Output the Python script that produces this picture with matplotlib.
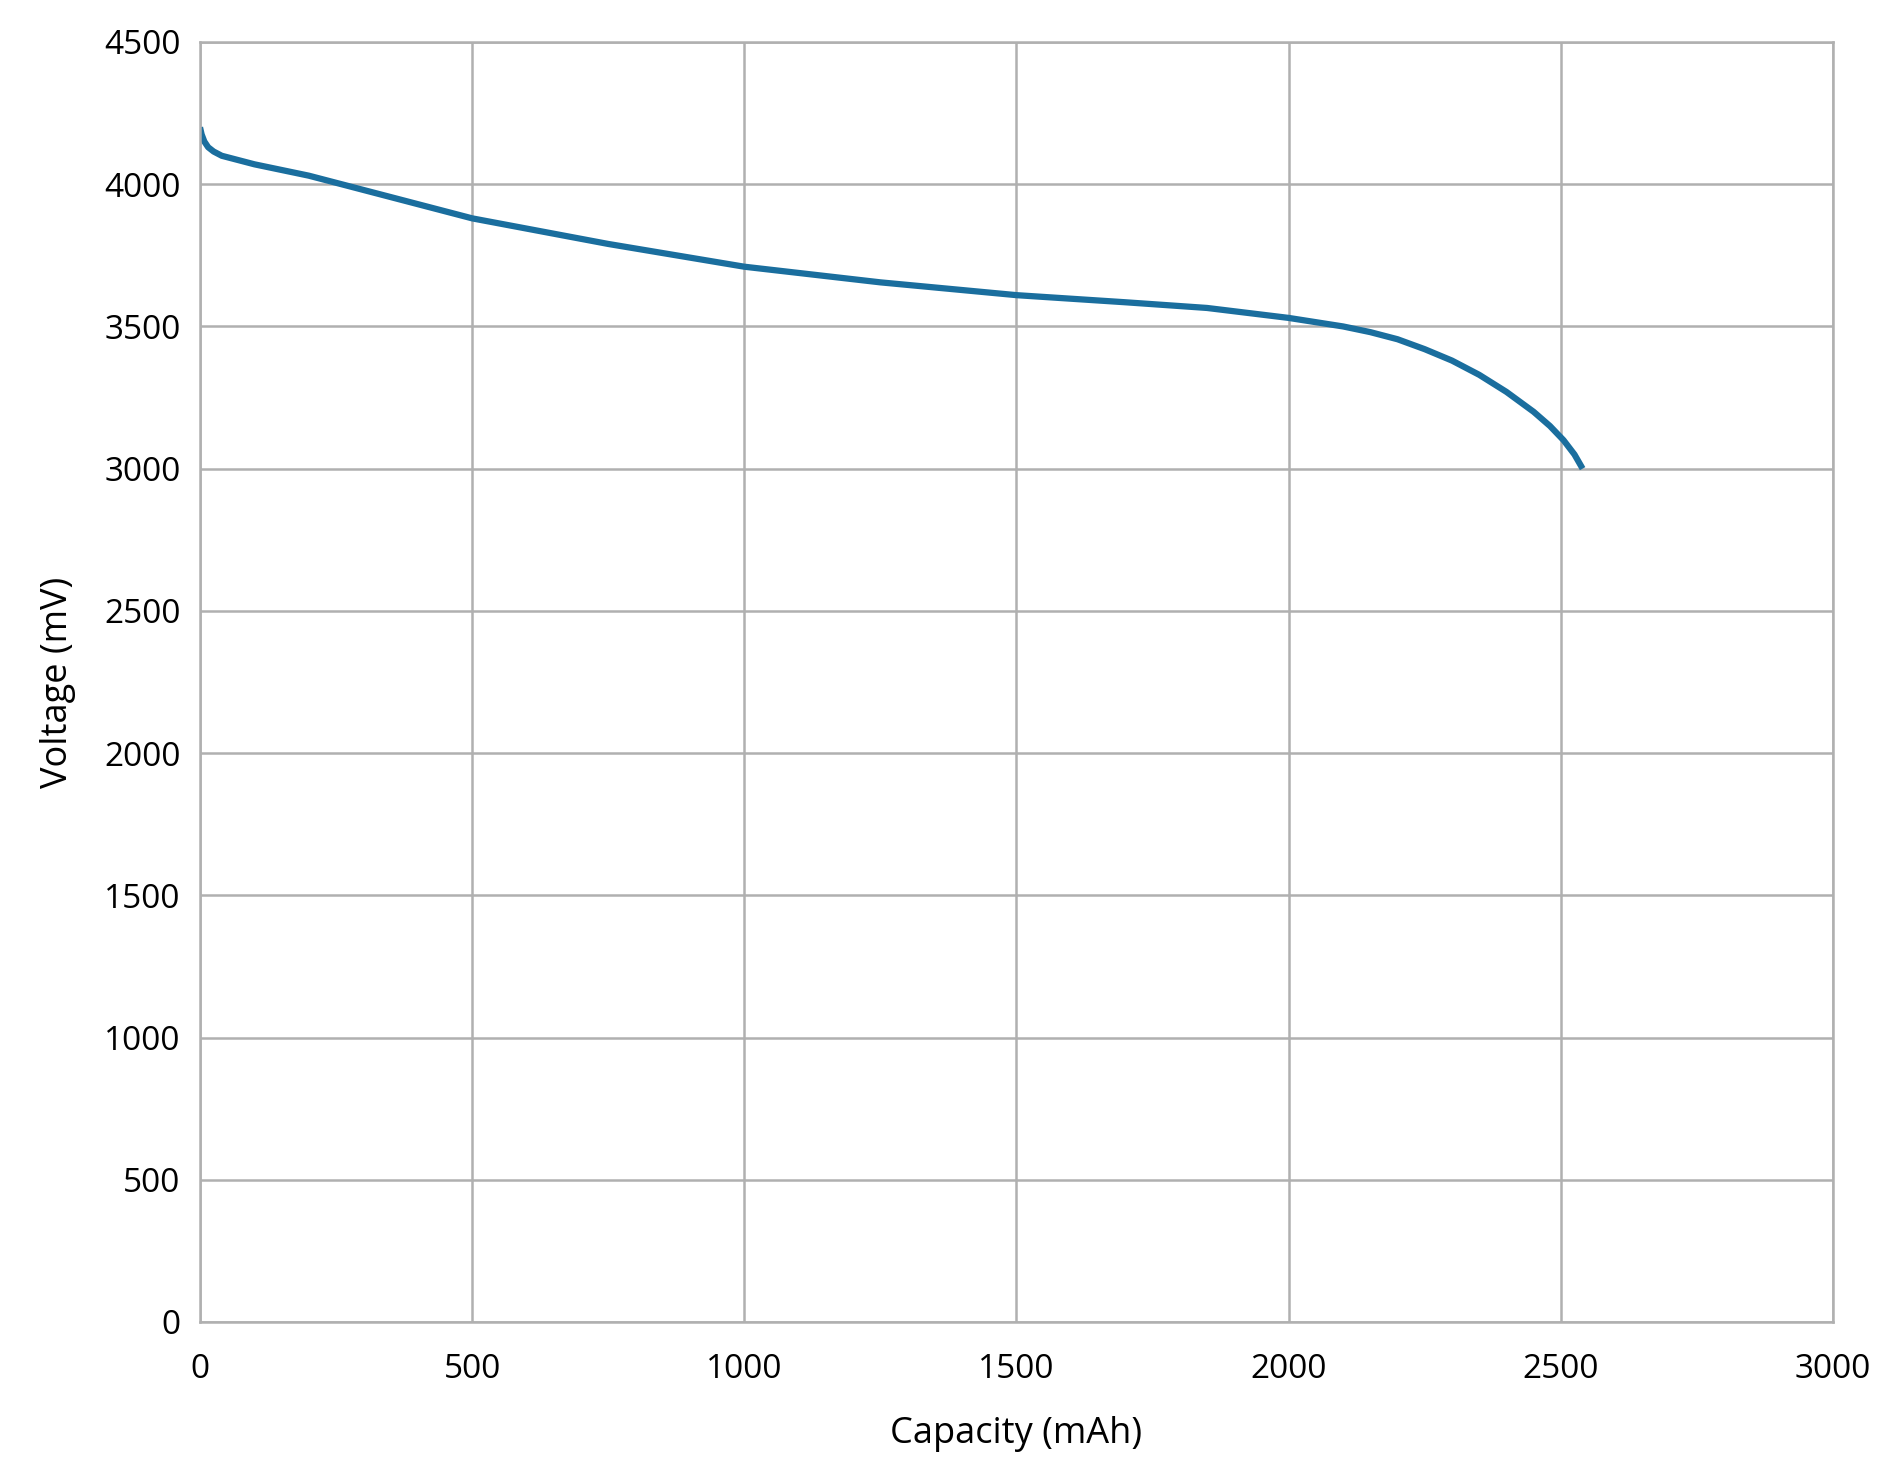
import matplotlib.pyplot as plt

plt.rcParams['font.family'] = ['Open Sans', 'DejaVu Sans']

# discharge curve
capacity = [0, 3, 8, 15, 25, 40, 70, 100, 200, 350, 500, 750, 1000, 1250, 1500, 1700, 1850,
            2000, 2050, 2100, 2150, 2200, 2250, 2300, 2350, 2400, 2450, 2480, 2505, 2525, 2540]
voltage = [4200, 4175, 4150, 4130, 4115, 4100, 4085, 4070, 4030, 3955, 3880, 3790, 3710, 3655,
           3610, 3585, 3565, 3530, 3515, 3500, 3480, 3455, 3420, 3380, 3330, 3270, 3200, 3150,
           3100, 3050, 3000]

fig = plt.figure(figsize=(18.9, 14.83), dpi=100)
ax = fig.add_axes([200 / 1890, 1 - 1322 / 1483, 1633 / 1890, 1280 / 1483])
ax.plot(capacity, voltage, color='#1a6e9e', linewidth=4.5, solid_capstyle='butt')
ax.set_xlim(0, 3000)
ax.set_ylim(0, 4500)
ax.set_xticks(range(0, 3001, 500))
ax.set_yticks(range(0, 4501, 500))
ax.grid(True, color='#b0b0b0', linewidth=1.8)
for s in ax.spines.values():
    s.set_color('#b0b0b0')
    s.set_linewidth(1.8)
ax.tick_params(length=0, labelsize=24)
ax.tick_params(axis='x', pad=22)
ax.tick_params(axis='y', pad=14)
ax.set_xlabel('Capacity (mAh)', fontsize=26, labelpad=22)
ax.set_ylabel('Voltage (mV)', fontsize=26, labelpad=20)
fig.savefig('out.png', dpi=100)
